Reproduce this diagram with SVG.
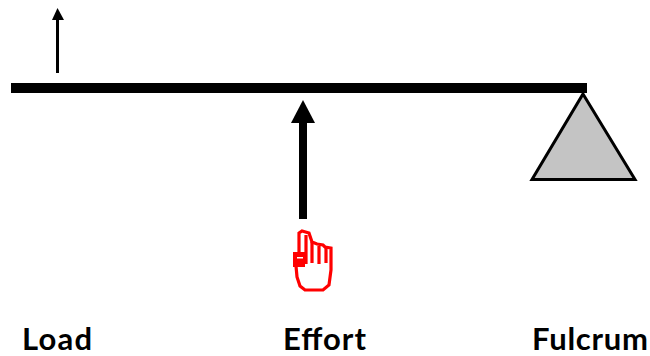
<svg xmlns="http://www.w3.org/2000/svg" width="650" height="356" viewBox="0 0 650 356">
<style>
.label{font-family:"Lato","Liberation Sans",sans-serif;font-weight:700;font-size:31px;fill:#000}
.hand{fill:none;stroke:#f00;stroke-width:3.2}
</style>
<rect width="650" height="356" fill="#fff"/>
<g id="fulcrum"><polygon points="583,94 635,179.500 532,179.500" fill="#c4c4c4" stroke="#000" stroke-width="3" stroke-linejoin="miter"/></g>
<g id="lever"><rect x="11" y="83" width="576" height="10" fill="#000"/></g>
<g id="connectors">
<g id="load-arrow"><rect x="56" y="18" width="3" height="55" fill="#000"/><polygon points="57.500,8 64,20 52,20" fill="#000"/></g>
<g id="effort-arrow"><rect x="299" y="120" width="8" height="99" fill="#000"/><polygon points="303,100 315,123 291,123" fill="#000"/></g>
</g>
<g id="hand">
<path class="hand" d="M296,266 L297,277 L300,286 L305,290 L323,290 L329,285 L331,270 L331,248 L325,247 L323,245 L317,244 L312,242 L309,233 L302,231 L299,233 L299,253"/>
<path class="hand" stroke-linecap="butt" d="M306,235V264M312,242V263M319,246V264M326,247V263"/>
<rect x="293" y="252" width="12" height="15" fill="#f00"/>
<rect x="297" y="257" width="6" height="1.500" fill="#fff"/>
</g>
<g id="load"><text class="label" x="22" y="349.800" textLength="70">Load</text></g>
<g id="effort"><text class="label" x="283" y="349.800" textLength="83">Effort</text></g>
<g id="fulcrum-label"><text class="label" x="532" y="349.800" textLength="116">Fulcrum</text></g>
</svg>
